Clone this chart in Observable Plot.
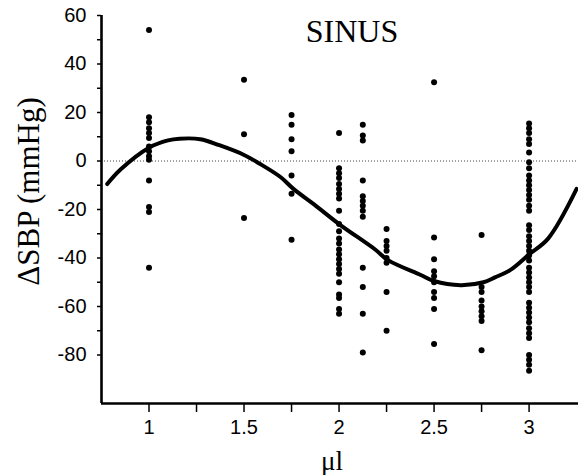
<!DOCTYPE html>
<html>
<head>
<meta charset="utf-8">
<script src="https://cdn.jsdelivr.net/npm/d3@7"></script>
<script src="https://cdn.jsdelivr.net/npm/@observablehq/plot@0.6"></script>
<style>
  html, body { margin: 0; padding: 0; background: #fff; }
  #chart svg { display: block; }
</style>
</head>
<body>
<div id="chart"></div>
<script>
// Change in systolic blood pressure per injected volume (sinus rhythm)
const doses = [1, 1.5, 1.75, 2, 2.125, 2.25, 2.5, 2.75, 3];
const dose1    = [54, 18, 16, 13.5, 11.5, 9.5, 6, 4, 2, 0.5, -8, -19, -21, -44];
const dose1_5  = [33.5, 11, -23.5];
const dose1_75 = [19, 15, 9, 4, -6, -13.5, -32.5];
const dose2    = [11.5, -3, -5, -7, -9.5, -11.5, -13.5, -15.5, -20.5, -26, -29, -32, -34, -36.5,
                  -38.5, -40.5, -42.5, -44.5, -46.5, -50, -55, -56.5, -61, -63];
const dose2_125 = [15, 10.5, 8.5, -8, -14.5, -16.5, -18.5, -20.5, -23, -44, -52, -63, -79];
const dose2_25 = [-28, -33, -35, -37, -40, -42, -54, -70];
const dose2_5  = [32.5, -31.5, -40.5, -45.5, -47.5, -50, -54, -56.5, -61, -75.5];
const dose2_75 = [-30.5, -52, -54, -57.5, -60, -62, -64, -66, -78];
const dose3    = [15.5, 13.5, 11.5, 9, 7, 3.5, -0.5, -3, -6, -8, -10, -12, -14, -16, -18.5, -20.5,
                  -26.5, -28.5, -31, -33, -35, -37, -39, -41, -44, -46, -48, -50, -52, -54,
                  -58.5, -60.5, -62.5, -64.5, -66.5, -69, -71, -73, -80, -82, -84, -86.5];
const columns = [dose1, dose1_5, dose1_75, dose2, dose2_125, dose2_25, dose2_5, dose2_75, dose3];

// Fitted response curve
const fitX = [0.78, 0.85, 1.0, 1.1, 1.16, 1.27, 1.37, 1.5, 1.58, 1.69, 1.76, 1.87, 2.0, 2.19,
              2.26, 2.43, 2.5, 2.64, 2.76, 2.82, 2.9, 3.0, 3.1, 3.25];
const fitY = [-9.5, -3.5, 5.5, 8.5, 9.2, 9, 6.5, 2.5, -1, -6.5, -11.5, -18, -26, -36.5,
              -41, -47, -49.5, -51.2, -50, -48, -45, -38.5, -32, -11.5];

const xMajor = [1, 1.5, 2, 2.5, 3];
const xMinor = [1.25, 1.75, 2.25, 2.75];
const yMajor = [60, 40, 20, 0, -20, -40, -60, -80];
const yMinor = [50, 30, 10, -10, -30, -50, -70];

const title = "SINUS";
const yLabel = "ΔSBP (mmHg)";
const xLabel = "μl";

const points = doses.flatMap((d, i) => columns[i].map(v => ({dose: d, value: v})));
const fit = fitX.map((x, i) => ({x, y: fitY[i]}));

const sans = "'Liberation Sans', Arial, sans-serif";
const serif = "'Liberation Serif', 'Times New Roman', serif";

const chart = Plot.plot({
  width: 578,
  height: 475,
  marginLeft: 101,
  marginRight: 0,
  marginTop: 15,
  marginBottom: 72,
  style: {background: "#fff", color: "#000", overflow: "visible"},
  x: {domain: [0.75, 3.26], axis: null},
  y: {domain: [-100, 60], axis: null},
  marks: [
    Plot.ruleY([0], {stroke: "#444", strokeWidth: 1, strokeDasharray: "1,2"}),
    Plot.axisY(yMajor, {tickSize: 4, tickPadding: 11, tickFormat: d => String(d),
      fontSize: 20, fontFamily: sans, strokeWidth: 1.5, label: null}),
    Plot.axisY(yMinor, {tickSize: 4, tickFormat: () => "", strokeWidth: 1.5, label: null}),
    Plot.axisX(xMajor, {tickSize: 9, tickPadding: 7, tickFormat: d => String(d),
      fontSize: 20, fontFamily: sans, strokeWidth: 1.5, label: null}),
    Plot.axisX(xMinor, {tickSize: 9, tickFormat: () => "", strokeWidth: 1.5, label: null}),
    Plot.ruleX([0.75], {stroke: "#000", strokeWidth: 2.6}),
    Plot.ruleY([-100], {stroke: "#000", strokeWidth: 2.6}),
    Plot.dot(points, {x: "dose", y: "value", r: 3, fill: "#000", stroke: null}),
    Plot.line(fit, {x: "x", y: "y", curve: "catmull-rom", stroke: "#000", strokeWidth: 4}),
    Plot.text([title], {frameAnchor: "top", lineAnchor: "middle", dx: 12, dy: 16,
      fontSize: 32, fontFamily: serif, fill: "#000"}),
    Plot.text([yLabel], {frameAnchor: "left", textAnchor: "middle", lineAnchor: "middle",
      rotate: -90, dx: -72, dy: -18, fontSize: 31, fontFamily: serif, fill: "#000"}),
    Plot.text([xLabel], {frameAnchor: "bottom", lineAnchor: "middle", dx: -8, dy: 58,
      fontSize: 27, fontFamily: serif, fill: "#000"})
  ]
});
document.getElementById("chart").append(chart);
</script>
</body>
</html>
